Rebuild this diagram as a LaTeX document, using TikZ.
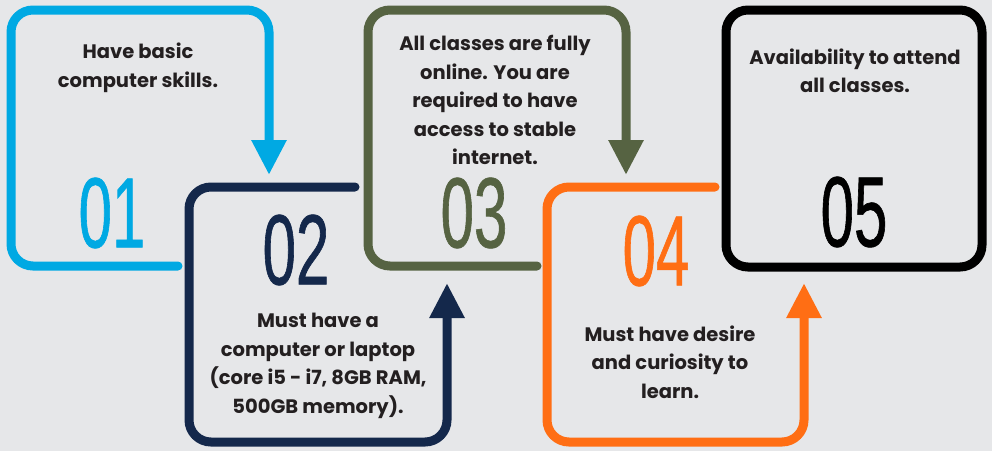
\documentclass[tikz,border=0pt]{standalone}
\usepackage{fontspec}
\setmainfont{Poppins}
\newfontfamily\numfont[FakeStretch=0.6,RawFeature={embolden=0.6}]{Liberation Sans}
\usetikzlibrary{arrows.meta}
\definecolor{bggray}{HTML}{E6E7E9}
\definecolor{skyblue}{HTML}{00A9E3}
\definecolor{navyblue}{HTML}{14284B}
\definecolor{olivegreen}{HTML}{566342}
\definecolor{brightorange}{HTML}{FF6E14}
\definecolor{textgray}{HTML}{231F20}

\begin{document}
\begin{tikzpicture}[x=1pt,y=-1pt,
    boxline/.style={line width=9pt,rounded corners=22pt,line cap=round},
    tip/.style={-{Triangle[width=33pt,length=35pt]}},
    num/.style={inner sep=0pt,font=\numfont\fontsize{100}{100}\selectfont},
    info/.style={inner sep=1pt,align=center,text=textgray,font=\bfseries\fontsize{19.5}{28.5}\selectfont}]
    \fill[bggray] (0,0) rectangle (992,451);
    \useasboundingbox (0,0) rectangle (992,451);
    % 01
    \draw[boxline,tip,color=skyblue] (178,266) -- (11,266) -- (11,10) -- (269,10) -- (269,175);
    \node[num,text=skyblue] (n1) at (112,213) {01};
    \node[info] (t1) at (138,68) {Have basic\\computer skills.};
    % 02
    \draw[boxline,tip,color=navyblue] (355,187) -- (189,187) -- (189,442) -- (447,442) -- (447,283);
    \node[num,text=navyblue] (n2) at (296,250) {02};
    \node[info] (t2) at (318,366) {Must have a\\computer or laptop\\(core i5 - i7, 8GB RAM,\\500GB memory).};
    % 03
    \draw[boxline,tip,color=olivegreen] (537,266) -- (368,266) -- (368,10) -- (626,10) -- (626,175);
    \node[num,text=olivegreen] (n3) at (474,213) {03};
    \node[info] (t3) at (495,100) {All classes are fully\\online. You are\\required to have\\access to stable\\internet.};
    % 04
    \draw[boxline,tip,color=brightorange] (715,187) -- (547,187) -- (547,442) -- (804,442) -- (804,283);
    \node[num,text=brightorange] (n4) at (656,251) {04};
    \node[info] (t4) at (670,362) {Must have desire\\and curiosity to\\learn.};
    % 05
    \draw[boxline,color=black] (726,10) rectangle (982,267);
    \node[num,text=black] (n5) at (854,212) {05};
    \node[info] (t5) at (855,71) {Availability to attend\\all classes.};
\end{tikzpicture}
\end{document}
